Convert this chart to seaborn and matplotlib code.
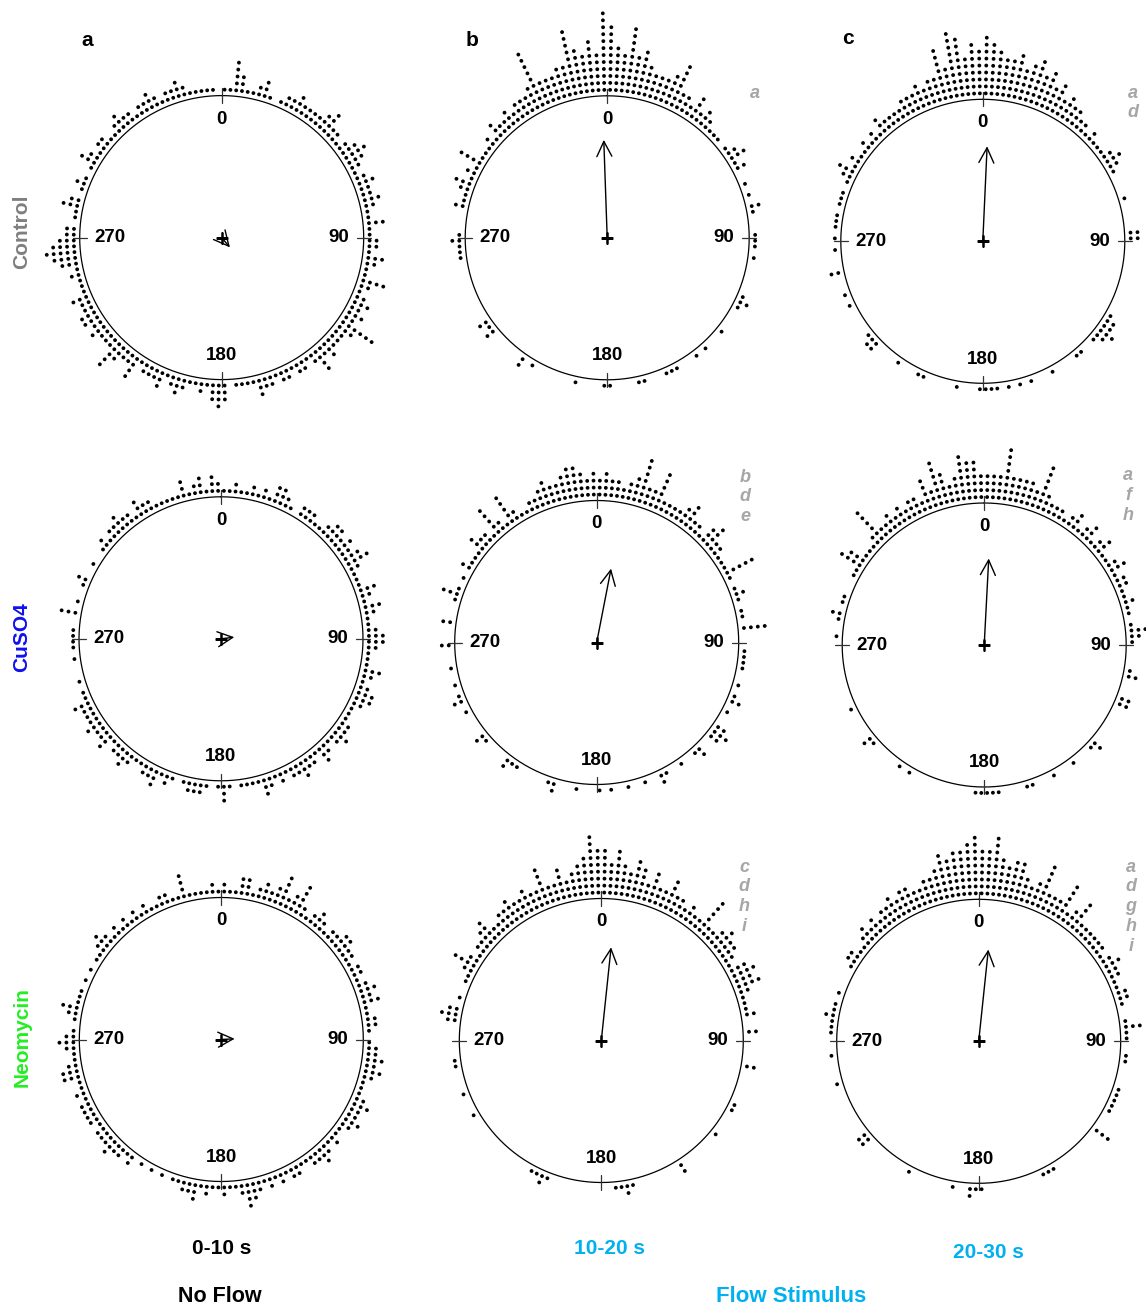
import numpy as np
import pandas as pd
import matplotlib
matplotlib.use("Agg")
import matplotlib.pyplot as plt
import seaborn as sns

sns.set_theme(style="white")
plt.rcParams['font.family'] = ['Liberation Sans', 'DejaVu Sans']

# ---------------- data ----------------
N_BINS = 160  # angular bins (2.25 deg each), bin i centred at (i+0.5)*2.25 deg, clockwise from 0 (top)

counts_ctrl_0_10 = [
    1,1,5,3,1,1,2,3,1,0,1,2,2,3,2,2,
    2,2,3,4,2,2,1,2,3,4,3,2,1,2,3,2,
    2,3,2,1,1,3,1,1,2,2,1,3,2,1,1,4,
    2,1,2,3,2,3,2,6,3,2,2,2,3,2,4,2,
    1,2,2,1,2,2,1,2,2,3,1,1,1,1,0,3,
    4,3,1,2,1,1,2,3,2,1,3,2,2,2,1,4,
    2,2,3,5,2,2,2,3,2,3,3,2,2,3,1,1,
    1,2,1,3,4,5,4,3,2,2,0,1,1,3,2,0,
    1,2,1,0,1,3,2,1,2,2,1,1,2,3,2,2,
    1,2,2,3,2,1,2,2,3,2,1,1,1,1,1,0]
counts_ctrl_10_20 = [
    10,7,6,10,6,7,5,4,4,4,5,7,3,3,2,4,
    2,3,2,1,1,1,0,1,2,3,1,2,0,0,1,0,
    1,0,2,1,0,0,0,1,1,1,0,1,0,0,0,0,
    0,0,1,2,1,0,0,0,0,1,0,0,0,1,0,1,
    0,0,0,1,1,1,0,0,0,1,1,0,0,0,0,1,
    1,0,0,0,0,1,0,0,0,0,0,0,0,1,0,2,
    0,0,0,0,0,0,2,1,2,0,0,0,0,0,0,0,
    0,0,0,0,1,1,1,2,1,0,0,0,0,2,1,1,
    2,3,1,2,1,4,1,1,1,2,1,3,2,2,3,2,
    3,3,3,4,9,4,4,4,5,5,10,7,6,8,6,12]
counts_ctrl_20_30 = [
    9,8,7,6,6,7,5,6,7,5,6,4,5,3,4,3,
    3,2,2,1,2,1,1,1,2,3,2,1,0,0,0,0,
    1,0,0,0,0,0,2,2,0,0,0,0,0,0,0,0,
    0,0,0,0,0,1,2,2,3,2,1,0,0,1,1,0,
    0,0,0,1,0,0,0,1,0,1,0,1,0,1,1,1,
    1,0,0,0,1,0,0,0,0,0,1,1,0,0,0,1,
    0,0,0,0,2,2,1,0,0,0,0,0,1,0,1,0,
    0,0,2,0,0,0,1,0,1,0,1,1,1,0,1,1,
    1,0,1,2,3,1,2,1,1,2,1,2,1,3,2,2,
    2,2,3,3,3,4,3,4,4,8,5,10,9,6,8,7]
counts_cuso4_0_10 = [
    1,1,2,1,1,2,1,2,1,3,3,2,1,0,2,2,
    2,1,1,2,3,3,2,3,2,3,4,2,1,1,1,3,
    2,1,3,2,1,1,2,3,3,2,1,1,1,3,2,1,
    2,3,3,2,1,1,1,2,2,3,2,1,2,3,1,2,
    2,3,2,2,1,2,1,2,3,1,1,1,1,0,1,3,
    1,0,1,2,2,2,1,0,1,2,1,3,2,2,1,1,
    2,3,2,2,1,3,2,2,3,2,2,2,3,1,1,0,
    1,0,0,0,1,0,1,1,1,1,0,0,3,0,1,0,
    0,1,2,0,0,1,0,0,1,2,1,2,2,3,2,2,
    1,3,2,2,1,1,1,1,1,3,1,2,3,1,3,2]
counts_cuso4_10_20 = [
    3,4,3,3,2,3,4,7,3,3,6,2,2,2,2,3,
    4,2,2,1,3,4,2,2,1,1,1,5,1,0,1,2,
    1,0,1,1,0,4,0,0,0,1,1,1,1,0,0,1,
    0,1,2,0,1,0,0,2,3,2,0,0,2,1,0,0,
    1,0,0,1,2,0,0,1,0,0,1,0,0,1,0,1,
    0,0,0,1,0,0,0,2,1,0,0,0,0,0,1,1,
    2,0,0,0,0,1,2,0,0,0,0,1,0,2,1,0,
    1,0,0,1,0,0,0,2,0,0,0,2,0,0,0,1,
    3,1,0,1,0,2,1,1,1,3,2,2,1,5,2,1,
    5,2,1,1,2,2,3,4,3,3,4,5,5,4,3,4]
counts_cuso4_20_30 = [
    4,4,4,8,4,4,4,4,3,7,3,2,2,2,1,2,
    3,1,2,3,1,2,3,1,1,2,3,1,2,2,1,1,
    2,1,1,0,1,3,2,1,0,0,0,0,1,2,0,0,
    0,2,2,0,0,0,0,0,0,0,2,1,0,0,0,1,
    0,0,0,1,0,0,0,1,1,0,0,0,0,1,1,1,
    1,1,0,0,0,0,0,0,0,0,0,0,0,1,0,1,
    0,0,0,0,0,1,2,0,0,0,0,0,1,0,0,0,
    0,0,0,0,0,0,0,0,0,1,0,0,1,2,0,1,
    1,0,0,0,1,1,4,3,1,1,1,2,6,2,2,3,
    2,3,2,3,3,2,5,3,7,5,3,4,7,6,6,4]
counts_neo_0_10 = [
    2,1,1,3,3,1,2,3,2,3,5,2,3,5,2,1,
    2,3,2,1,2,2,3,3,2,2,1,2,2,1,2,3,
    2,3,1,1,2,2,1,0,1,2,2,3,2,3,2,1,
    1,1,2,3,2,2,3,2,1,1,2,1,2,3,2,2,
    1,1,2,2,1,2,1,2,1,2,3,4,2,1,1,2,
    1,1,2,1,3,2,2,1,1,0,1,0,1,0,1,0,
    2,1,2,2,3,2,2,2,1,2,2,2,2,1,2,1,
    1,3,3,2,1,1,2,3,2,1,0,1,2,3,1,1,
    1,0,1,0,1,0,1,1,2,3,2,1,2,1,2,1,
    2,1,2,1,1,2,2,1,1,4,1,1,1,1,2,1]
counts_neo_10_20 = [
    7,5,7,5,4,6,5,3,5,3,3,5,3,3,2,3,
    2,2,6,2,2,3,4,3,3,2,1,3,4,3,4,2,
    1,1,1,2,0,0,2,0,0,0,0,0,2,0,0,0,
    0,0,0,1,1,0,0,0,0,1,0,0,0,0,0,0,
    0,2,0,0,0,0,0,0,0,0,1,2,1,1,0,0,
    0,0,0,0,0,0,0,0,0,1,2,1,1,0,0,0,
    0,0,0,0,0,0,0,0,0,0,1,0,0,0,1,0,
    0,0,0,1,1,0,0,0,0,0,0,2,3,2,0,1,
    0,0,1,1,2,4,2,1,2,2,3,4,2,2,3,3,
    4,3,3,4,3,3,6,3,3,5,3,4,5,6,9,7]
counts_neo_20_30 = [
    7,7,9,6,5,6,6,4,3,4,7,3,3,3,6,2,
    3,5,2,2,2,2,2,2,1,2,3,2,2,1,1,2,
    2,1,0,0,1,3,1,1,0,0,1,1,0,0,0,0,
    1,1,1,1,1,0,0,0,3,0,0,0,0,0,0,0,
    0,0,1,1,1,0,0,0,0,0,0,0,0,0,0,1,
    1,2,0,0,1,0,0,0,0,0,0,0,1,0,0,0,
    0,0,0,0,0,2,2,0,0,0,0,0,0,0,0,0,
    1,0,0,0,0,1,0,0,0,1,1,1,2,1,1,0,
    1,0,0,0,0,1,2,2,1,1,2,3,2,3,2,3,
    3,4,3,4,4,3,3,4,4,5,7,6,7,7,8,9]

# mean vectors (direction in degrees clockwise from 0, length as fraction of radius)
mean_dirs = [140, 358, 2.6, 83, 11, 3, 87, 6, 6]
mean_lens = [0.09, 0.69, 0.67, 0.094, 0.53, 0.61, 0.094, 0.66, 0.65]

axis_labels = ["0", "90", "180", "270"]
row_labels = ["Control", "CuSO4", "Neomycin"]
col_letters = ["a", "b", "c"]
time_labels = ["0-10 s", "10-20 s", "20-30 s"]
group_labels = ["No Flow", "Flow Stimulus"]
sig_letters = [[], ["a"], ["a", "d"],
               [], ["b", "d", "e"], ["a", "f", "h"],
               [], ["c", "d", "h", "i"], ["a", "d", "g", "h", "i"]]

all_counts = [counts_ctrl_0_10, counts_ctrl_10_20, counts_ctrl_20_30,
              counts_cuso4_0_10, counts_cuso4_10_20, counts_cuso4_20_30,
              counts_neo_0_10, counts_neo_10_20, counts_neo_20_30]

# ---------------- layout ----------------
W, H = 1146, 1308
fig = plt.figure(figsize=(W / 100, H / 100), dpi=100)
fig.patch.set_facecolor("white")

centers = [(221.7, 237.6), (607.2, 237.8), (982.8, 241.3),
           (221.0, 638.8), (596.7, 642.5), (984.2, 645.0),
           (221.3, 1039.5), (601.3, 1040.5), (978.7, 1041.3)]
R_PX = 142.0
RMAX = 1.8
R1 = 1.042
STEP = 0.049

for p, (cx, cy) in enumerate(centers):
    half = R_PX * RMAX
    ax = fig.add_axes([(cx - half) / W, 1 - (cy + half) / H, 2 * half / W, 2 * half / H],
                      projection="polar")
    ax.set_theta_zero_location("N")
    ax.set_theta_direction(-1)
    ax.set_ylim(0, RMAX)
    ax.axis("off")

    counts = all_counts[p]
    rows = []
    for i, c in enumerate(counts[:N_BINS]):
        th = np.deg2rad((i + 0.5) * 360.0 / N_BINS)
        for k in range(int(c)):
            rows.append((th, R1 + k * STEP))
    df = pd.DataFrame(rows, columns=["theta", "r"])
    sns.scatterplot(data=df, x="theta", y="r", ax=ax, s=7.5, color="black",
                    edgecolor="none", linewidth=0, legend=False)
    ax.axis("off")

    tt = np.linspace(0, 2 * np.pi, 720)
    ax.plot(tt, np.ones_like(tt), color="black", lw=0.9)
    for a in [0, 90, 180, 270]:
        th = np.deg2rad(a)
        ax.plot([th, th], [0.95, 1.05], color="#333333", lw=0.9)
    for a, lab, rr in zip([0, 90, 180, 270], axis_labels, [0.835, 0.822, 0.83, 0.79]):
        ax.text(np.deg2rad(a), rr, lab, ha="center", va="center",
                fontsize=13.5, fontweight="bold", color="black")
    ax.plot([0], [0], marker="+", ms=8, mew=1.8, color="black")
    ax.annotate("", xy=(np.deg2rad(mean_dirs[p]), mean_lens[p]), xytext=(0, 0),
                arrowprops=dict(arrowstyle="->,head_length=0.9,head_width=0.45",
                                lw=1.0, color="black", shrinkA=0, shrinkB=0))

def ftext(x, y, s, **kw):
    fig.text(x / W, 1 - y / H, s, ha="center", va="center", **kw)

for (x, y), s in zip([(87, 40), (472, 40), (848, 38)], col_letters):
    ftext(x, y, s, fontsize=15, fontweight="bold", color="black")

for y, s, col in zip([232, 637, 1037], row_labels, ["#7f7f7f", "#1010f0", "#22ee22"]):
    ftext(22, y, s, fontsize=15, fontweight="bold", color=col, rotation=90)

for (x, y), s, col in zip([(222, 1248), (610, 1248), (988, 1253)], time_labels,
                          ["black", "#00B0F0", "#00B0F0"]):
    ftext(x, y, s, fontsize=15, fontweight="bold", color=col)

ftext(220, 1297, group_labels[0], fontsize=15.5, fontweight="bold", color="black")
ftext(791, 1297, group_labels[1], fontsize=16, fontweight="bold", color="#00B0F0")

sig_pos = [None, (755, 93), (1133, 93), None, (745, 477), (1128, 476),
           None, (744, 867), (1131, 867)]
for p, letters in enumerate(sig_letters):
    if not letters:
        continue
    x0, y0 = sig_pos[p]
    for j, s in enumerate(letters):
        ftext(x0, y0 + j * 19.8, s, fontsize=13, fontweight="bold",
              fontstyle="italic", color="#a6a6a6")

fig.savefig("out.png", dpi=100, facecolor="white")
